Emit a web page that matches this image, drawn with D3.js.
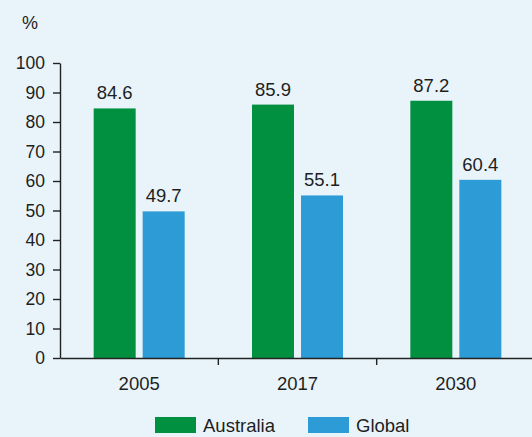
<!DOCTYPE html>
<html><head><meta charset="utf-8">
<script src="https://cdn.jsdelivr.net/npm/d3@7"></script>
<style>
html,body{margin:0;padding:0;background:#e9f4fa;}
svg{display:block;font-family:"Liberation Sans",Arial,Helvetica,sans-serif;}
</style></head>
<body><svg id="c" width="532" height="437"></svg>
<script>
const years = ["2005","2017","2030"];
const seriesNames = ["Australia","Global"];
const australia = [84.6, 85.9, 87.2];
const global = [49.7, 55.1, 60.4];
const yTicks = [0,10,20,30,40,50,60,70,80,90,100];
const colors = ["#009040","#2d9bd5"];
const FONT = "Liberation Sans, Arial, sans-serif";

const svg = d3.select("#c");
svg.append("rect").attr("width",532).attr("height",437).attr("fill","#e9f4fa");

const x = d3.scaleBand().domain(years).range([60,535]).padding(0);
const y = d3.scaleLinear().domain([0,100]).range([358,63]);
const barW = 42, gap = 7;
const sub = d3.scaleOrdinal().domain(seriesNames).range([-(barW+gap/2), gap/2]);

const data = [australia, global];
seriesNames.forEach((s,si)=>{
  const g = svg.append("g");
  years.forEach((yr,i)=>{
    const v = data[si][i];
    const bx = x(yr)+x.bandwidth()/2+sub(s);
    g.append("rect").attr("x",bx).attr("y",y(v)).attr("width",barW).attr("height",y(0)-y(v)).attr("fill",colors[si]);
    g.append("text").attr("x",bx+barW/2).attr("y",y(v)-9).attr("text-anchor","middle")
      .attr("font-size",18.5).attr("fill","#1e1e1e").text(v.toFixed(1));
  });
});

// y axis
const ya = svg.append("g").attr("transform","translate(60,0)")
  .call(d3.axisLeft(y).tickValues(yTicks).tickSize(7).tickSizeOuter(0).tickPadding(8));
ya.selectAll("path,line").attr("stroke","#222").attr("stroke-width",1.4);
ya.selectAll("text").attr("font-size",17.5).attr("fill","#1e1e1e").attr("font-family",FONT);

// x axis
const xa = svg.append("g").attr("transform","translate(0,358)")
  .call(d3.axisBottom(x).tickSize(0).tickPadding(19));
xa.select("path").attr("stroke","#222").attr("stroke-width",1.4);
xa.selectAll("text").attr("font-size",18.5).attr("fill","#1e1e1e").attr("font-family",FONT);
// category separators
const sep = years.slice(1).map(d=>x(d));
svg.append("g").selectAll("line").data(sep).join("line")
  .attr("x1",d=>d).attr("x2",d=>d).attr("y1",358).attr("y2",365).attr("stroke","#222").attr("stroke-width",1.4);

svg.append("text").attr("x",22).attr("y",29).attr("font-size",18).attr("fill","#1e1e1e").text("%");

// legend
const legX = [155, 308];
seriesNames.forEach((s,i)=>{
  svg.append("rect").attr("x",legX[i]).attr("y",417).attr("width",41).attr("height",16).attr("fill",colors[i]);
  svg.append("text").attr("x",legX[i]+48).attr("y",432).attr("font-size",18.5).attr("fill","#1e1e1e").text(s);
});
</script></body></html>
